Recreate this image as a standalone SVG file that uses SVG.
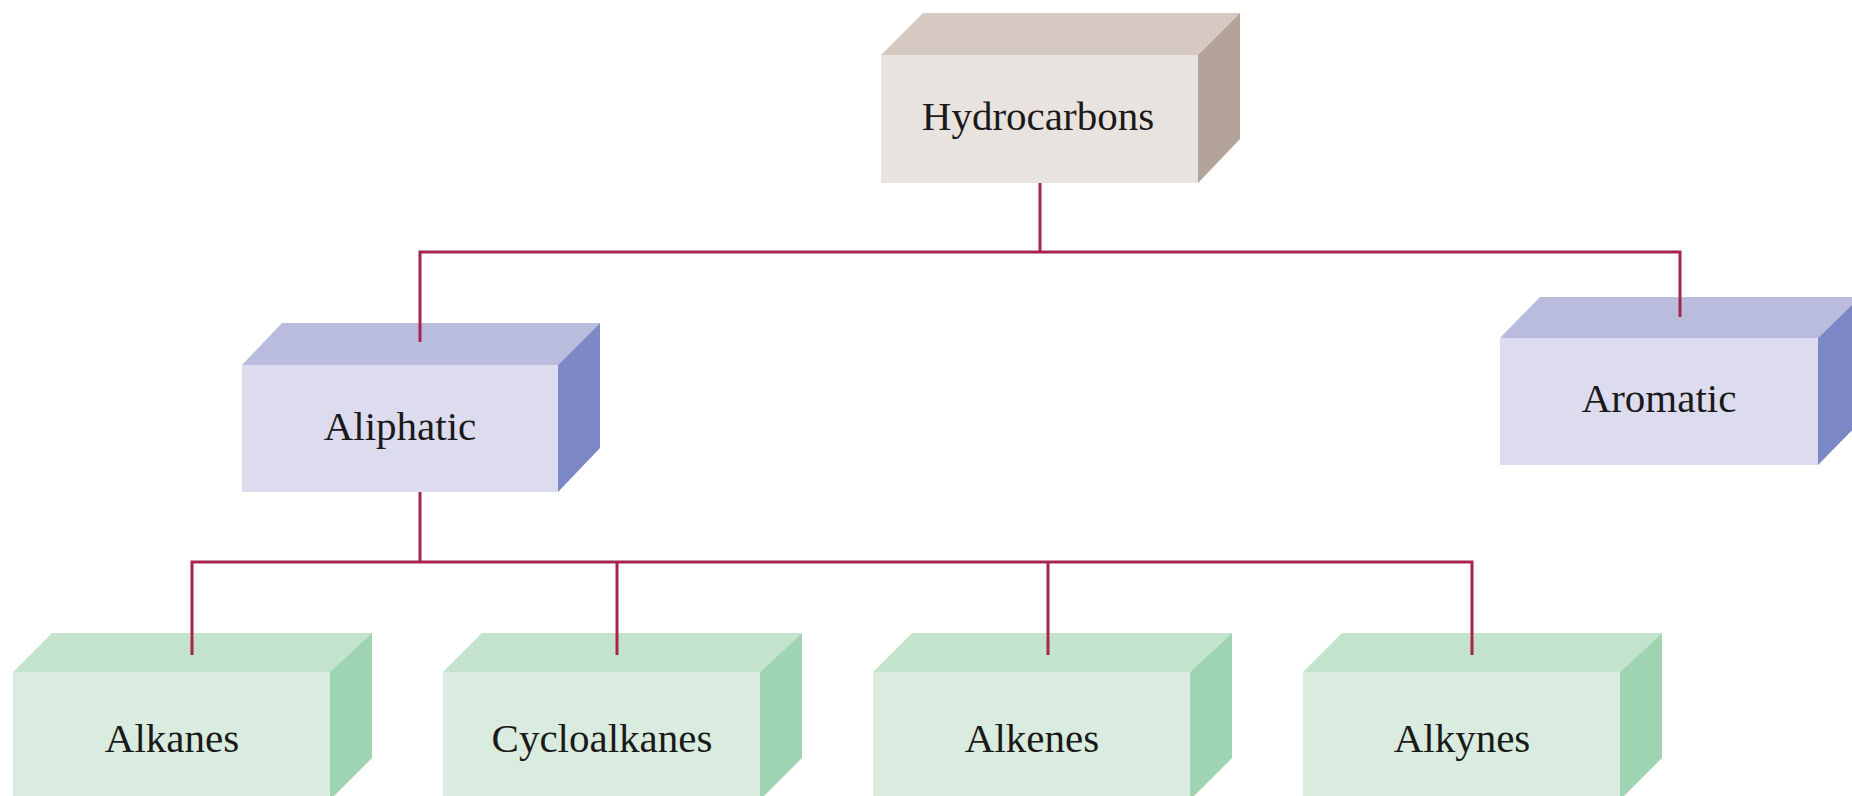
<svg xmlns="http://www.w3.org/2000/svg" width="1852" height="796" viewBox="0 0 1852 796">
<style>
.lbl{font-family:"Liberation Serif","Times New Roman",serif;font-size:41px;fill:#1a1a1a;text-anchor:middle}
.con{stroke:#a8244f;stroke-width:3;fill:none;stroke-linecap:butt;stroke-linejoin:miter}
.brF{fill:#e9e3e0}.brT{fill:#d6c9c2}.brS{fill:#b4a399}
.puF{fill:#dcdcee}.puT{fill:#babcdd}.puS{fill:#7c87c5}
.grF{fill:#d9ecdf}.grT{fill:#c4e3cd}.grS{fill:#9ed4b1}
</style>
<rect width="1852" height="796" fill="#ffffff"/>
<g id="hydrocarbons">
<polygon class="brT" points="881,55 923,13 1240,13 1198,55"/>
<polygon class="brS" points="1198,55 1240,13 1240,139 1198,183"/>
<rect class="brF" x="881" y="55" width="317" height="128"/>
<text class="lbl" x="1038" y="130">Hydrocarbons</text>
</g>
<g id="aliphatic">
<polygon class="puT" points="242,365 282,323 600,323 558,365"/>
<polygon class="puS" points="558,365 600,323 600,448 558,492"/>
<rect class="puF" x="242" y="365" width="316" height="127"/>
<text class="lbl" x="400" y="440">Aliphatic</text>
</g>
<g id="aromatic">
<polygon class="puT" points="1500,338 1540,297 1860,297 1818,338"/>
<polygon class="puS" points="1818,338 1860,297 1860,422 1818,465"/>
<rect class="puF" x="1500" y="338" width="318" height="127"/>
<text class="lbl" x="1659" y="412">Aromatic</text>
</g>
<g id="alkanes">
<polygon class="grT" points="13,672 52,633 372,633 330,672"/>
<polygon class="grS" points="330,672 372,633 372,758 330,800"/>
<rect class="grF" x="13" y="672" width="317" height="130"/>
<text class="lbl" x="172" y="752">Alkanes</text>
</g>
<g id="cycloalkanes">
<polygon class="grT" points="443,672 482,633 802,633 760,672"/>
<polygon class="grS" points="760,672 802,633 802,758 760,800"/>
<rect class="grF" x="443" y="672" width="317" height="130"/>
<text class="lbl" x="602" y="752">Cycloalkanes</text>
</g>
<g id="alkenes">
<polygon class="grT" points="873,672 912,633 1232,633 1190,672"/>
<polygon class="grS" points="1190,672 1232,633 1232,758 1190,800"/>
<rect class="grF" x="873" y="672" width="317" height="130"/>
<text class="lbl" x="1032" y="752">Alkenes</text>
</g>
<g id="alkynes">
<polygon class="grT" points="1303,672 1342,633 1662,633 1620,672"/>
<polygon class="grS" points="1620,672 1662,633 1662,758 1620,800"/>
<rect class="grF" x="1303" y="672" width="317" height="130"/>
<text class="lbl" x="1462" y="752">Alkynes</text>
</g>
<g id="connectors">
<polyline class="con" points="1040,183 1040,252"/>
<polyline class="con" points="420,342 420,252 1680,252 1680,317"/>
<polyline class="con" points="420,492 420,562"/>
<polyline class="con" points="192,655 192,562 1472,562 1472,655"/>
<polyline class="con" points="617,562 617,655"/>
<polyline class="con" points="1048,562 1048,655"/>
</g>
</svg>
